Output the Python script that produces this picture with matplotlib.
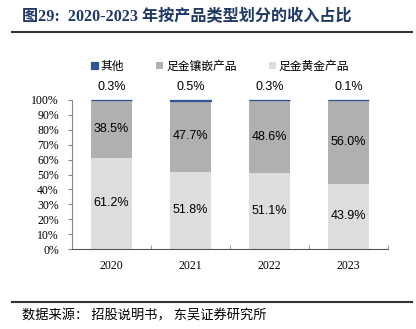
import matplotlib.pyplot as plt
import numpy as np

years = ['2020', '2021', '2022', '2023']
other = [0.3, 0.5, 0.3, 0.1]
inlaid = [38.5, 47.7, 48.6, 56.0]
gold = [61.2, 51.8, 51.1, 43.9]

c_other = '#2F5597'
c_inlaid = '#B0B0B0'
c_gold = '#DDDDDD'

cjk = ['Liberation Serif', 'Noto Sans CJK SC']


def main():
    fig = plt.figure(figsize=(4.16, 3.29), dpi=100)
    ax = fig.add_axes([72 / 416, 1 - 249 / 329, 316 / 416, 149 / 329])
    x = np.arange(len(years))
    w = 0.52
    ax.bar(x, gold, w, color=c_gold, label='足金黄金产品')
    ax.bar(x, inlaid, w, bottom=gold, color=c_inlaid, label='足金镶嵌产品')
    bottom2 = [g + i for g, i in zip(gold, inlaid)]
    ax.bar(x, other, w, bottom=bottom2, color=c_other, edgecolor=c_other,
           linewidth=0.9, label='其他', clip_on=False)

    for i in range(len(years)):
        ax.text(x[i], gold[i] / 2, f'{gold[i]:.1f}%', ha='center', va='center',
                fontsize=9, family='Liberation Sans')
        ax.text(x[i], gold[i] + inlaid[i] / 2, f'{inlaid[i]:.1f}%', ha='center',
                va='center', fontsize=9, family='Liberation Sans')
        ax.text(x[i], 108.7, f'{other[i]:.1f}%', ha='center', va='center',
                fontsize=9, family='Liberation Sans')

    ax.set_ylim(0, 100)
    ax.set_xlim(-0.5, 3.5)
    ax.set_yticks(range(0, 101, 10))
    ax.set_yticklabels([f'{v}%' for v in range(0, 101, 10)], family='Liberation Serif', fontsize=8.5)
    ax.set_xticks(x)
    ax.set_xticklabels(years, family='Liberation Serif', fontsize=8.5)
    ax.set_xticks(np.arange(-0.5, 3.6, 1), minor=True)
    ax.tick_params(axis='y', length=3, color='#888888', pad=6.5)
    ax.tick_params(axis='x', which='major', length=0, pad=8)
    ax.tick_params(axis='x', which='minor', length=3, direction='in', color='#888888')
    for s in ['top', 'right']:
        ax.spines[s].set_visible(False)
    ax.spines['left'].set_color('#888888')
    ax.spines['bottom'].set_color('#555555')

    h, l = ax.get_legend_handles_labels()
    fig.legend(h[::-1], l[::-1], loc='center', bbox_to_anchor=(220 / 416, 1 - 66 / 329), ncol=3,
               frameon=False, prop={'family': 'Noto Sans CJK SC', 'size': 8.5},
               handlelength=0.6, handleheight=0.6, handletextpad=0.25, columnspacing=2.7)

    fig.text(22 / 416, 1 - 17 / 329, '图29:  2020-2023 年按产品类型划分的收入占比', family=cjk,
             fontsize=11.6, fontweight='bold', color='#1F3864', va='center')
    fig.add_artist(plt.Line2D([12 / 416, 412 / 416], [1 - 32 / 329] * 2, color='#333333', lw=1.5))
    fig.add_artist(plt.Line2D([12 / 416, 412 / 416], [1 - 302 / 329] * 2, color='#333333', lw=1.5))
    fig.text(22 / 416, 1 - 316 / 329, '数据来源\uff1a 招股说明书\uff0c 东吴证券研究所',
             family='Noto Sans CJK SC', fontsize=9.5, va='center')
    plt.savefig('out.png', dpi=100)


main()
